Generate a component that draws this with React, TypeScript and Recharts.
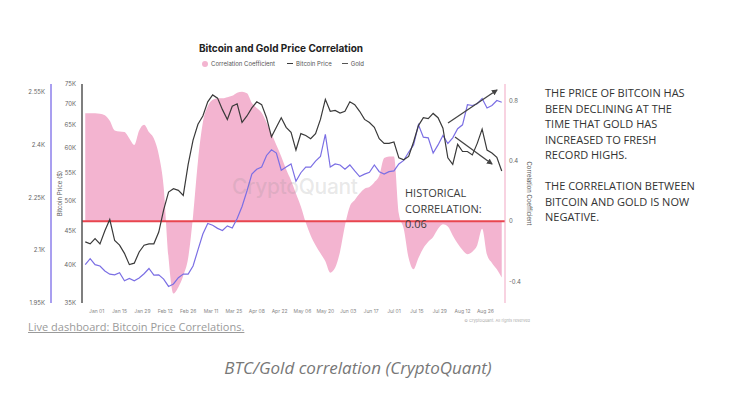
import React from 'react';
import { ComposedChart, Area, Line, XAxis, YAxis, ReferenceLine, Legend } from 'recharts';

// day offsets from Jan 1 2024, every third day
const days = [
  -7, -4, -1, 2, 5, 8, 11, 14, 17, 20, 23, 26, 29, 32, 35, 38, 41, 44, 47, 50, 53, 56,
  59, 62, 65, 68, 71, 74, 77, 80, 83, 86, 89, 92, 95, 98, 101, 104, 107, 110, 113, 116,
  119, 122, 125, 128, 131, 134, 137, 140, 143, 146, 149, 152, 155, 158, 161, 164, 167, 170,
  173, 176, 179, 182, 185, 188, 191, 194, 197, 200, 203, 206, 209, 212, 215, 218, 221, 224,
  227, 230, 233, 236, 239, 242, 245, 248,
];

const corrValues = [
  0.72, 0.72, 0.72, 0.716, 0.706, 0.669, 0.605, 0.598, 0.594, 0.551, 0.508, 0.605, 0.643, 0.594,
  0.551, 0.443, 0.228, -0.245, -0.481, -0.439, -0.363, -0.245, 0.035, 0.4, 0.658, 0.766, 0.809,
  0.819, 0.819, 0.826, 0.835, 0.856, 0.862, 0.852, 0.787, 0.755, 0.723, 0.658, 0.583, 0.508,
  0.432, 0.346, 0.271, 0.185, 0.099, -0.008, -0.094, -0.159, -0.213, -0.266, -0.342, -0.31,
  -0.202, -0.03, 0.099, 0.142, 0.185, 0.217, 0.228, 0.26, 0.303, 0.422, 0.432, 0.432, 0.05,
  -0.05, -0.245, -0.32, -0.245, -0.18, -0.137, -0.105, -0.05, -0.02, -0.034, -0.094, -0.148,
  -0.191, -0.219, -0.202, -0.159, -0.05, -0.223, -0.277, -0.32, -0.374,
];

const btcPrices = [
  43300, 43000, 43800, 43000, 45000, 46800, 43500, 42800, 41600, 40000, 40200, 41800, 42800,
  43000, 43000, 44800, 48400, 51500, 52100, 51800, 50900, 56700, 61700, 65200, 67100, 70500,
  72200, 71400, 68600, 66300, 69400, 70000, 65600, 67100, 69000, 70500, 69800, 66700, 62400,
  64500, 66700, 64500, 63400, 59600, 63100, 62700, 62000, 63100, 66300, 71100, 68200, 68400,
  67800, 68200, 70500, 69800, 68200, 66300, 65600, 64500, 62000, 61000, 61000, 61300, 58000,
  57600, 58300, 61300, 64900, 66700, 66500, 67700, 66700, 64300, 58000, 56700, 60800, 59300,
  59300, 58600, 61000, 64100, 59600, 59000, 58100, 55400,
];

const goldPrices = [
  2059, 2076, 2059, 2055, 2041, 2032, 2030, 2036, 2013, 2020, 2013, 2021, 2033, 2048, 2029,
  2030, 2018, 1997, 2004, 2022, 2032, 2032, 2055, 2101, 2146, 2176, 2171, 2162, 2156, 2169,
  2163, 2190, 2224, 2268, 2316, 2330, 2336, 2369, 2385, 2376, 2327, 2336, 2345, 2296, 2320,
  2336, 2336, 2353, 2366, 2429, 2336, 2345, 2342, 2330, 2342, 2325, 2309, 2316, 2321, 2342,
  2323, 2316, 2323, 2325, 2345, 2355, 2378, 2399, 2456, 2421, 2419, 2376, 2399, 2426, 2403,
  2419, 2445, 2456, 2513, 2511, 2516, 2531, 2504, 2511, 2525, 2520,
];

const xTickDays = [0, 14, 28, 42, 56, 70, 84, 98, 112, 126, 140, 154, 168, 182, 196, 210, 224, 238];
const xTickLabels = [
  'Jan 01', 'Jan 15', 'Jan 29', 'Feb 12', 'Feb 26', 'Mar 11', 'Mar 25', 'Apr 08', 'Apr 22',
  'May 06', 'May 20', 'Jun 03', 'Jun 17', 'Jul 01', 'Jul 15', 'Jul 29', 'Aug 12', 'Aug 26',
];
const btcTicks = [35000, 40000, 45000, 50000, 55000, 60000, 65000, 70000, 75000];
const goldTicks = [1950, 2100, 2250, 2400, 2550];
const corrTicks = [-0.4, 0, 0.4, 0.8];

const data = days.map((d, i) => ({
  day: d,
  corr: corrValues[i],
  btc: btcPrices[i],
  gold: goldPrices[i],
}));

const PINK = '#f3b4d0';
const BTC_COLOR = '#3a3a3a';
const GOLD_COLOR = '#7b6fe4';

const renderLegend = () => (
  <div style={{ display: 'flex', alignItems: 'center', fontSize: 6, color: '#555', whiteSpace: 'nowrap' }}>
    <span style={{ width: 6, height: 6, borderRadius: 3, background: PINK, display: 'inline-block', marginRight: 3 }} />
    <span style={{ marginRight: 12 }}>Correlation Coefficient</span>
    <span style={{ width: 6, height: 1, background: BTC_COLOR, display: 'inline-block', marginRight: 3 }} />
    <span style={{ marginRight: 10 }}>Bitcoin Price</span>
    <span style={{ width: 6, height: 1, background: '#555', display: 'inline-block', marginRight: 3 }} />
    <span>Gold</span>
  </div>
);

const textBase: React.CSSProperties = {
  position: 'absolute',
  fontFamily: '"Open Sans", sans-serif',
};

export default function App() {
  return (
    <div style={{ position: 'absolute', left: 0, top: 0, width: 734, height: 394, background: '#fff', overflow: 'hidden', fontFamily: 'Inter, sans-serif' }}>
      <div style={{ position: 'absolute', left: 0, top: 40, width: 562, textAlign: 'center', fontSize: 10, fontWeight: 700, color: '#222', lineHeight: '16px' }}>
        Bitcoin and Gold Price Correlation
      </div>

      <ComposedChart width={734} height={394} data={data} margin={{ top: 77, right: 199, bottom: 71, left: 11 }} style={{ position: 'absolute', left: 0, top: 0 }}>
        <XAxis
          dataKey="day"
          type="number"
          domain={[-9, 250]}
          ticks={xTickDays}
          interval={0}
          tickFormatter={(v) => xTickLabels[xTickDays.indexOf(v)]}
          axisLine={false}
          tickLine={false}
          tickSize={2}
          tickMargin={4}
          height={20}
          tick={{ fontSize: 5, fill: '#888' }}
        />
        <YAxis
          yAxisId="btc"
          orientation="left"
          type="number"
          scale="log"
          domain={[35000, 75000]}
          allowDataOverflow
          ticks={btcTicks}
          interval={0}
          width={31}
          tickFormatter={(v) => `${v / 1000}K`}
          axisLine={{ stroke: '#555', strokeWidth: 1.5 }}
          tickLine={false}
          tickSize={4}
          tickMargin={2}
          tick={{ fontSize: 6, fill: '#666' }}
          label={{ value: 'Bitcoin Price ($)', angle: -90, position: 'insideLeft', offset: 9, style: { textAnchor: 'middle', fontSize: 6, fill: '#555' } }}
        />
        <YAxis
          yAxisId="gold"
          orientation="left"
          type="number"
          domain={[1950, 2572]}
          allowDataOverflow
          ticks={goldTicks}
          interval={0}
          width={40}
          tickFormatter={(v) => `${v / 1000}K`}
          axisLine={{ stroke: '#a99ff0', strokeWidth: 2 }}
          tickLine={false}
          tickSize={4}
          tickMargin={2}
          tick={{ fontSize: 6, fill: '#666' }}
        />
        <YAxis
          yAxisId="corr"
          orientation="right"
          type="number"
          domain={[-0.544, 0.914]}
          allowDataOverflow
          ticks={corrTicks}
          interval={0}
          width={30}
          axisLine={{ stroke: '#f1a7c3', strokeWidth: 1 }}
          tickLine={false}
          tickSize={2}
          tickMargin={2}
          tick={{ fontSize: 6, fill: '#666' }}
          label={{ value: 'Correlation Coefficient', angle: 90, position: 'insideRight', offset: 6, style: { textAnchor: 'middle', fontSize: 6, fill: '#555' } }}
        />
        <Legend verticalAlign="top" content={renderLegend} wrapperStyle={{ left: 202, top: 60, width: 'auto' }} />
        <Area
          yAxisId="corr"
          dataKey="corr"
          name="Correlation Coefficient"
          type="monotone"
          baseValue={0}
          fill={PINK}
          fillOpacity={1}
          stroke="none"
          isAnimationActive={false}
        />
        <ReferenceLine yAxisId="corr" y={0} stroke="#e8464f" strokeWidth={2} />
        <Line yAxisId="gold" dataKey="gold" name="Gold" type="linear" stroke={GOLD_COLOR} strokeWidth={1.2} dot={false} isAnimationActive={false} />
        <Line yAxisId="btc" dataKey="btc" name="Bitcoin Price" type="linear" stroke={BTC_COLOR} strokeWidth={1.2} dot={false} isAnimationActive={false} />
      </ComposedChart>

      <div style={{ position: 'absolute', left: 232, top: 174, fontSize: 21, color: 'rgba(140,140,140,0.2)', fontWeight: 500, letterSpacing: -0.3 }}>
        CryptoQuant
      </div>

      <svg width={734} height={394} style={{ position: 'absolute', left: 0, top: 0, pointerEvents: 'none' }}>
        <defs>
          <marker id="head" markerWidth="6" markerHeight="6" refX="5" refY="3" orient="auto" markerUnits="userSpaceOnUse">
            <path d="M0,0 L6,3 L0,6 Z" fill="#444" />
          </marker>
        </defs>
        <line x1={448} y1={123} x2={497} y2={90} stroke="#444" strokeWidth={1.3} markerEnd="url(#head)" />
        <line x1={455} y1={137} x2={492} y2={164} stroke="#444" strokeWidth={1.3} markerEnd="url(#head)" />
      </svg>

      <div style={{ ...textBase, left: 405, top: 185, fontSize: 11, lineHeight: '15.5px', color: '#3c3c3c' }}>
        HISTORICAL<br />CORRELATION:<br />0.06
      </div>

      <div style={{ ...textBase, left: 545, top: 85, fontSize: 11, lineHeight: '15.5px', color: '#333' }}>
        THE PRICE OF BITCOIN HAS<br />
        BEEN DECLINING AT THE<br />
        TIME THAT GOLD HAS<br />
        INCREASED TO FRESH<br />
        RECORD HIGHS.<br />
        <br />
        THE CORRELATION BETWEEN<br />
        BITCOIN AND GOLD IS NOW<br />
        NEGATIVE.
      </div>

      <div style={{ position: 'absolute', right: 204, top: 318, fontSize: 4, color: '#aaa', whiteSpace: 'nowrap' }}>
        © CryptoQuant. All rights reserved
      </div>

      <div style={{ ...textBase, left: 28, top: 320, fontSize: 11, lineHeight: '14px', color: '#9a9a9a', textDecoration: 'underline' }}>
        Live dashboard: Bitcoin Price Correlations.
      </div>

      <div style={{ ...textBase, left: 0, top: 357, width: 716, textAlign: 'center', fontSize: 17, lineHeight: '22px', fontStyle: 'italic', color: '#777' }}>
        BTC/Gold correlation (CryptoQuant)
      </div>
    </div>
  );
}
